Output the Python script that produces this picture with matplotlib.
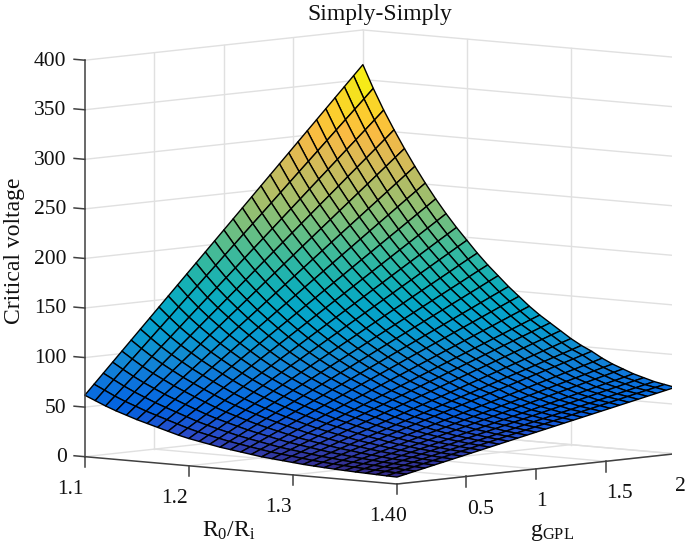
import matplotlib
matplotlib.use('Agg')
import matplotlib.pyplot as plt
import numpy as np
from matplotlib.colors import LinearSegmentedColormap
from mpl_toolkits.mplot3d import proj3d

plt.rcParams['font.family'] = ['Liberation Serif', 'DejaVu Serif']
plt.rcParams['mathtext.fontset'] = 'custom'
plt.rcParams['mathtext.rm'] = 'Liberation Serif'
plt.rcParams['mathtext.it'] = 'Liberation Serif'

r_ratio = [1.10, 1.11, 1.12, 1.13, 1.14, 1.15, 1.16, 1.17, 1.18, 1.19, 1.20, 1.21, 1.22, 1.23, 1.24, 1.25,
           1.26, 1.27, 1.28, 1.29, 1.30, 1.31, 1.32, 1.33, 1.34, 1.35, 1.36, 1.37, 1.38, 1.39, 1.40]
g_gpl = [0.0, 0.0667, 0.1333, 0.2, 0.2667, 0.3333, 0.4, 0.4667, 0.5333, 0.6, 0.6667, 0.7333, 0.8, 0.8667, 0.9333, 1.0,
         1.0667, 1.1333, 1.2, 1.2667, 1.3333, 1.4, 1.4667, 1.5333, 1.6, 1.6667, 1.7333, 1.8, 1.8667, 1.9333, 2.0]

# one row per r_ratio, one column per g_gpl
voltage = [
    [62, 72.1, 82.2, 92.3, 102.4, 112.5, 122.6, 132.7, 142.8, 152.9, 163, 173.1, 183.2, 193.3, 203.4, 213.5, 223.6, 233.7, 243.8, 253.9, 264, 274.1, 284.2, 294.3, 304.4, 314.5, 324.6, 334.7, 344.8, 354.9, 365],
    [57.5, 67, 76.5, 85.9, 95.4, 104.9, 114.4, 123.9, 133.3, 142.8, 152.3, 161.8, 171.3, 180.7, 190.2, 199.7, 209.2, 218.7, 228.1, 237.6, 247.1, 256.6, 266.1, 275.5, 285, 294.5, 304, 313.5, 322.9, 332.4, 342],
    [53, 61.9, 70.9, 79.8, 88.7, 97.7, 106.6, 115.5, 124.4, 133.4, 142.3, 151.2, 160.2, 169.1, 178, 187, 195.9, 204.8, 213.7, 222.7, 231.6, 240.5, 249.5, 258.4, 267.3, 276.3, 285.2, 294.1, 303, 312, 321],
    [49, 57.4, 65.9, 74.3, 82.7, 91.2, 99.6, 108, 116.4, 124.9, 133.3, 141.7, 150.2, 158.6, 167, 175.5, 183.9, 192.3, 200.7, 209.2, 217.6, 226, 234.5, 242.9, 251.3, 259.8, 268.2, 276.6, 285, 293.5, 302],
    [45.5, 53.5, 61.4, 69.4, 77.3, 85.3, 93.2, 101.2, 109.1, 117.1, 125, 133, 140.9, 148.9, 156.8, 164.8, 172.7, 180.7, 188.6, 196.6, 204.5, 212.5, 220.4, 228.4, 236.3, 244.3, 252.2, 260.2, 268.1, 276.1, 284],
    [42, 49.5, 57, 64.5, 72, 79.5, 87, 94.5, 102, 109.5, 117, 124.5, 132, 139.5, 147, 154.5, 162, 169.5, 177, 184.5, 192, 199.5, 207, 214.5, 222, 229.5, 237, 244.5, 252, 259.5, 267],
    [39, 46.1, 53.1, 60.2, 67.3, 74.3, 81.4, 88.5, 95.5, 102.6, 109.7, 116.8, 123.8, 130.9, 138, 145, 152.1, 159.2, 166.3, 173.3, 180.4, 187.5, 194.5, 201.6, 208.7, 215.8, 222.8, 229.9, 237, 244, 251],
    [36, 42.7, 49.3, 56, 62.7, 69.3, 76, 82.7, 89.3, 96, 102.7, 109.3, 116, 122.7, 129.3, 136, 142.7, 149.3, 156, 162.7, 169.3, 176, 182.7, 189.3, 196, 202.7, 209.3, 216, 222.7, 229.3, 236],
    [33, 39.3, 45.6, 51.9, 58.2, 64.5, 70.8, 77.1, 83.4, 89.7, 96, 102.3, 108.6, 114.9, 121.2, 127.5, 133.8, 140.1, 146.4, 152.7, 159, 165.3, 171.6, 177.9, 184.2, 190.5, 196.8, 203.1, 209.4, 215.7, 222],
    [30, 36, 41.9, 47.9, 53.9, 59.9, 65.8, 71.8, 77.8, 83.7, 89.7, 95.7, 101.6, 107.6, 113.6, 119.6, 125.5, 131.5, 137.5, 143.4, 149.4, 155.4, 161.3, 167.3, 173.3, 179.3, 185.2, 191.2, 197.2, 203.1, 209],
    [27.5, 33.2, 38.8, 44.5, 50.1, 55.8, 61.4, 67.1, 72.7, 78.4, 84, 89.7, 95.3, 101, 106.6, 112.3, 117.9, 123.6, 129.2, 134.9, 140.5, 146.2, 151.8, 157.5, 163.1, 168.8, 174.4, 180.1, 185.7, 191.4, 197],
    [25.5, 30.8, 36.1, 41.5, 46.8, 52.1, 57.4, 62.7, 68.1, 73.4, 78.7, 84, 89.3, 94.7, 100, 105.3, 110.6, 115.9, 121.3, 126.6, 131.9, 137.2, 142.5, 147.9, 153.2, 158.5, 163.8, 169.1, 174.5, 179.8, 185],
    [23.5, 28.5, 33.5, 38.6, 43.6, 48.6, 53.6, 58.6, 63.7, 68.7, 73.7, 78.7, 83.7, 88.8, 93.8, 98.8, 103.8, 108.8, 113.9, 118.9, 123.9, 128.9, 133.9, 139, 144, 149, 154, 159, 164.1, 169.1, 174],
    [21.5, 26.3, 31, 35.8, 40.5, 45.3, 50, 54.8, 59.5, 64.3, 69, 73.8, 78.5, 83.3, 88, 92.8, 97.5, 102.3, 107, 111.8, 116.5, 121.3, 126, 130.8, 135.5, 140.3, 145, 149.8, 154.5, 159.3, 164],
    [20, 24.5, 28.9, 33.4, 37.9, 42.4, 46.8, 51.3, 55.8, 60.2, 64.7, 69.2, 73.6, 78.1, 82.6, 87.1, 91.5, 96, 100.5, 104.9, 109.4, 113.9, 118.3, 122.8, 127.3, 131.8, 136.2, 140.7, 145.2, 149.6, 154],
    [18.5, 22.7, 26.9, 31.2, 35.4, 39.6, 43.8, 48, 52.3, 56.5, 60.7, 64.9, 69.1, 73.4, 77.6, 81.8, 86, 90.2, 94.5, 98.7, 102.9, 107.1, 111.3, 115.6, 119.8, 124, 128.2, 132.4, 136.7, 140.9, 145],
    [17, 21, 24.9, 28.9, 32.9, 36.9, 40.8, 44.8, 48.8, 52.7, 56.7, 60.7, 64.6, 68.6, 72.6, 76.6, 80.5, 84.5, 88.5, 92.4, 96.4, 100.4, 104.3, 108.3, 112.3, 116.3, 120.2, 124.2, 128.2, 132.1, 136],
    [15.5, 19.3, 23, 26.8, 30.5, 34.3, 38, 41.8, 45.5, 49.3, 53, 56.8, 60.5, 64.3, 68, 71.8, 75.5, 79.3, 83, 86.8, 90.5, 94.3, 98, 101.8, 105.5, 109.3, 113, 116.8, 120.5, 124.3, 128],
    [14.5, 18.1, 21.6, 25.2, 28.7, 32.3, 35.8, 39.4, 42.9, 46.5, 50, 53.6, 57.1, 60.7, 64.2, 67.8, 71.3, 74.9, 78.4, 82, 85.5, 89.1, 92.6, 96.2, 99.7, 103.3, 106.8, 110.4, 113.9, 117.5, 121],
    [13.5, 16.9, 20.2, 23.6, 26.9, 30.3, 33.6, 37, 40.3, 43.7, 47, 50.4, 53.7, 57.1, 60.4, 63.8, 67.1, 70.5, 73.8, 77.2, 80.5, 83.9, 87.2, 90.6, 93.9, 97.3, 100.6, 104, 107.3, 110.7, 114],
    [12.5, 15.7, 18.8, 22, 25.1, 28.3, 31.4, 34.6, 37.7, 40.9, 44, 47.2, 50.3, 53.5, 56.6, 59.8, 62.9, 66.1, 69.2, 72.4, 75.5, 78.7, 81.8, 85, 88.1, 91.3, 94.4, 97.6, 100.7, 103.9, 107],
    [11.5, 14.5, 17.5, 20.4, 23.4, 26.4, 29.4, 32.4, 35.3, 38.3, 41.3, 44.3, 47.3, 50.2, 53.2, 56.2, 59.2, 62.2, 65.1, 68.1, 71.1, 74.1, 77.1, 80, 83, 86, 89, 92, 94.9, 97.9, 101],
    [10.8, 13.6, 16.5, 19.3, 22.2, 25, 27.8, 30.7, 33.5, 36.4, 39.2, 42, 44.9, 47.7, 50.6, 53.4, 56.2, 59.1, 61.9, 64.8, 67.6, 70.4, 73.3, 76.1, 79, 81.8, 84.6, 87.5, 90.3, 93.2, 96],
    [10.1, 12.8, 15.4, 18.1, 20.7, 23.4, 26.1, 28.7, 31.4, 34, 36.7, 39.4, 42, 44.7, 47.3, 50, 52.7, 55.3, 58, 60.6, 63.3, 66, 68.6, 71.3, 73.9, 76.6, 79.3, 81.9, 84.6, 87.2, 90],
    [9.5, 12, 14.5, 17.1, 19.6, 22.1, 24.6, 27.1, 29.7, 32.2, 34.7, 37.2, 39.7, 42.3, 44.8, 47.3, 49.8, 52.3, 54.9, 57.4, 59.9, 62.4, 64.9, 67.5, 70, 72.5, 75, 77.5, 80.1, 82.6, 85],
    [9, 11.4, 13.8, 16.2, 18.6, 21, 23.4, 25.8, 28.2, 30.6, 33, 35.4, 37.8, 40.2, 42.6, 45, 47.4, 49.8, 52.2, 54.6, 57, 59.4, 61.8, 64.2, 66.6, 69, 71.4, 73.8, 76.2, 78.6, 81],
    [8.5, 10.8, 13.1, 15.3, 17.6, 19.9, 22.2, 24.5, 26.7, 29, 31.3, 33.6, 35.9, 38.1, 40.4, 42.7, 45, 47.3, 49.5, 51.8, 54.1, 56.4, 58.7, 60.9, 63.2, 65.5, 67.8, 70.1, 72.3, 74.6, 77],
    [8.1, 10.3, 12.5, 14.7, 16.9, 19.1, 21.3, 23.5, 25.7, 27.9, 30.1, 32.3, 34.5, 36.7, 38.9, 41.1, 43.3, 45.5, 47.7, 49.9, 52.1, 54.3, 56.5, 58.7, 60.9, 63.1, 65.3, 67.5, 69.7, 71.9, 74],
    [7.7, 9.8, 11.9, 14, 16.1, 18.3, 20.4, 22.5, 24.6, 26.7, 28.8, 30.9, 33, 35.1, 37.2, 39.4, 41.5, 43.6, 45.7, 47.8, 49.9, 52, 54.1, 56.2, 58.3, 60.5, 62.6, 64.7, 66.8, 68.9, 71],
    [7.3, 9.4, 11.4, 13.5, 15.5, 17.6, 19.7, 21.7, 23.8, 25.8, 27.9, 30, 32, 34.1, 36.1, 38.2, 40.3, 42.3, 44.4, 46.4, 48.5, 50.6, 52.6, 54.7, 56.7, 58.8, 60.9, 62.9, 65, 67, 69],
    [7, 9, 11, 13, 15, 17, 19, 21, 23, 25, 27, 29, 31, 33, 35, 37, 39, 41, 43, 45, 47, 49, 51, 53, 55, 57, 59, 61, 63, 65, 67],
]

r_ticks = [1.1, 1.2, 1.3, 1.4]
g_ticks = [0.5, 1.0, 1.5, 2.0]
z_ticks = [0, 50, 100, 150, 200, 250, 300, 350, 400]
r_tick_labels = ['1.1', '1.2', '1.3', '1.4']
g_tick_labels = ['0.5', '1', '1.5', '2']

parula_colors = [
    (0.2081, 0.1663, 0.5292), (0.1707, 0.2919, 0.7792), (0.0117, 0.3875, 0.8820),
    (0.0498, 0.4586, 0.8641), (0.0749, 0.5375, 0.8263), (0.0265, 0.6137, 0.8135),
    (0.0228, 0.6535, 0.7768), (0.0843, 0.6928, 0.7062), (0.2178, 0.7250, 0.6193),
    (0.3953, 0.7459, 0.5244), (0.5709, 0.7485, 0.4494), (0.7184, 0.7411, 0.3905),
    (0.8507, 0.7299, 0.3360), (0.9739, 0.7314, 0.2666), (0.9880, 0.8066, 0.1794),
    (0.9589, 0.8949, 0.1132), (0.9763, 0.9831, 0.0538),
]
parula = LinearSegmentedColormap.from_list('parula', parula_colors)

GRID = '#e0e0e0'
AXIS = '#404040'
TEXT = '#111111'
W, H = 685, 549
SIDE = 600
FS = 15.5
FS_LABEL = 17

fig = plt.figure(figsize=(W / 100, H / 100), dpi=100)
ax = fig.add_axes([71.8 / W, -16.1 / H, SIDE / W, SIDE / H], projection='3d', computed_zorder=False)
ax.set_proj_type('ortho')
ax.view_init(elev=5.6, azim=-48.1)
ax.set_box_aspect((419, 416, 398), zoom=691.9 / SIDE)
ax.set_axis_off()

R, G = np.meshgrid(r_ratio, g_gpl, indexing='ij')
Z = np.array(voltage)

r0, r1 = r_ticks[0], r_ticks[-1]
g0, g1 = 0, g_ticks[-1]
z0, z1 = z_ticks[0], z_ticks[-1]

# walls and floor grid
for z in z_ticks:
    ax.plot([r0, r0], [g0, g1], [z, z], color=GRID, lw=1.0, zorder=1)
    ax.plot([r0, r1], [g1, g1], [z, z], color=GRID, lw=1.0, zorder=1)
for g in g_ticks:
    ax.plot([r0, r0], [g, g], [z0, z1], color=GRID, lw=1.0, zorder=1)
    ax.plot([r0, r1], [g, g], [z0, z0], color=GRID, lw=1.0, zorder=1)
for r in r_ticks[1:]:
    ax.plot([r, r], [g1, g1], [z0, z1], color=GRID, lw=1.0, zorder=1)
    ax.plot([r, r], [g0, g1], [z0, z0], color=GRID, lw=1.0, zorder=1)

ax.plot_surface(R, G, Z, rstride=1, cstride=1, cmap=parula, vmin=Z.min(), vmax=Z.max(),
                shade=False, edgecolor='black', linewidth=1.0, antialiased=True, zorder=2)

# axis lines and ticks
ax.plot([r0, r1], [g0, g0], [z0, z0], color=AXIS, lw=1.1, zorder=3)
ax.plot([r1, r1], [g0, g1], [z0, z0], color=AXIS, lw=1.1, zorder=3)
ax.plot([r0, r0], [g0, g0], [z0, z1], color=AXIS, lw=1.1, zorder=3)
for r in r_ticks:
    ax.plot([r, r], [g0, g0], [z0, -10.5], color=AXIS, lw=1.1, zorder=3)
for g in g_ticks:
    ax.plot([r1, r1], [g, g], [z0, -10.5], color=AXIS, lw=1.1, zorder=3)
for z in z_ticks:
    ax.plot([r0, r0 - 0.0103], [g0, g0], [z, z], color=AXIS, lw=1.1, zorder=3)

ax.set_xlim(r0, r1)
ax.set_ylim(g0, g1)
ax.set_zlim(z0, z1)


def put_text(x, y, z, s, **kw):
    xp, yp, _ = proj3d.proj_transform(x, y, z, ax.get_proj())
    ax.text2D(xp, yp, s, transform=ax.transData, color=TEXT, **kw)


for r, label in zip(r_ticks, r_tick_labels):
    put_text(r - 0.001, g0, -33, label, ha='right', va='center', fontsize=FS)
put_text(r1, g0 - 0.01, -33, '0', ha='left', va='center', fontsize=FS)
for g, label in zip(g_ticks, g_tick_labels):
    put_text(r1, g + 0.003, -33, label, ha='left', va='center', fontsize=FS)
for z in z_ticks:
    put_text(r0 - 0.0175, g0, z - 2.5, str(z), ha='right', va='center', fontsize=FS)

put_text(1.2385, g0, -62.3, r'$\mathrm{R_0/R_i}$', ha='center', va='center', fontsize=FS_LABEL)
put_text(r1, 1.115, -66.3, r'$\mathrm{g_{GPL}}$', ha='center', va='center', fontsize=FS_LABEL)
put_text(1.0327, g0, 201.6, 'Critical voltage', rotation=90, ha='center', va='center', fontsize=FS_LABEL)
put_text(1.116, g1, 417.5, 'Simply-Simply', ha='center', va='center', fontsize=FS_LABEL)

fig.savefig('out.png', dpi=100)
